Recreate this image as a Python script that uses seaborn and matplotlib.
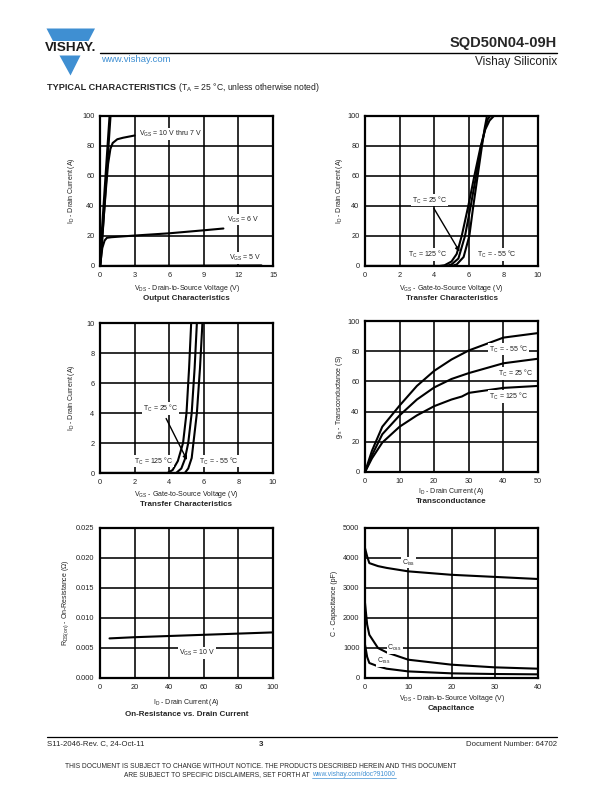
import numpy as np
import matplotlib
matplotlib.use('Agg')
import matplotlib.pyplot as plt
import seaborn as sns
from matplotlib.patches import Polygon

# ---------------- data ----------------
# Output characteristics (VDS, ID)
out_vds_10 = [0, 0.87]
out_id_10 = [0, 100]
out_vds_7 = [0, 0.3, 0.5, 0.7, 0.9, 1.1, 1.5, 2.0, 3.0]
out_id_7 = [0, 30, 50, 68, 78, 82, 84.5, 85.5, 87]
out_vds_6 = [0, 0.2, 0.4, 0.6, 1.0, 3.0, 6.0, 9.0, 10.7]
out_id_6 = [0, 12, 17, 18.8, 19.2, 20.3, 21.8, 23.8, 25]
out_vds_5 = [0, 14]
out_id_5 = [0, 0.4]

# Transfer characteristics, 0-100 A
tr_vgs_125 = [0, 4.3, 4.6, 5.0, 5.3, 5.59, 5.97, 6.32, 6.69, 6.95, 7.2, 7.45]
tr_id_125 = [0, 0, 0.5, 3, 8, 20, 40, 60, 80, 91, 97, 100]
tr_vgs_25 = [0, 4.7, 5.0, 5.4, 5.78, 6.11, 6.42, 6.72, 6.95, 7.1, 7.25]
tr_id_25 = [0, 0, 1, 5, 20, 40, 60, 80, 92, 98, 100]
tr_vgs_m55 = [0, 5.0, 5.3, 5.7, 6.03, 6.26, 6.51, 6.76, 6.92, 7.05]
tr_id_m55 = [0, 0, 1, 6, 20, 40, 60, 80, 92, 100]

# Transfer characteristics, 0-10 A
trl_vgs_125 = [0, 3.9, 4.2, 4.5, 4.8, 5.0, 5.15, 5.27]
trl_id_125 = [0, 0, 0.2, 0.8, 2, 4, 7, 10]
trl_vgs_25 = [0, 4.4, 4.7, 4.9, 5.1, 5.3, 5.47, 5.6]
trl_id_25 = [0, 0, 0.3, 0.9, 2, 4, 7, 10]
trl_vgs_m55 = [0, 4.9, 5.1, 5.3, 5.4, 5.6, 5.78, 5.92]
trl_id_m55 = [0, 0, 0.3, 1, 2, 4, 7, 10]

# Transconductance (ID, gfs)
gfs_id = [0, 2, 5, 10, 15, 20, 25, 30, 40, 50]
gfs_m55 = [0, 14, 30, 44, 57, 67, 74.5, 80.5, 89, 92]
gfs_25 = [0, 11, 25, 37.5, 48, 56, 61.6, 65.5, 72, 75]
gfs_id_125 = [0, 2, 5, 10, 15, 20, 25, 28, 30, 40, 50]
gfs_125 = [0, 9, 19.5, 30, 37.5, 43.6, 48, 50, 52.4, 55.7, 57]

# On-resistance vs drain current
rds_id = [5.5, 20, 40, 60, 80, 100]
rds_on = [0.0066, 0.0068, 0.0070, 0.0072, 0.0074, 0.0076]

# Capacitance (VDS, pF)
cap_vds = [0, 0.5, 1, 3, 5, 10, 20, 30, 40]
c_iss = [4330, 4050, 3830, 3730, 3670, 3555, 3440, 3370, 3300]
c_oss = [2500, 1780, 1440, 1000, 855, 610, 444, 355, 310]
c_rss = [1110, 700, 500, 390, 310, 220, 155, 133, 122]

out_xticks = [0, 3, 6, 9, 12, 15]
id_yticks = [0, 20, 40, 60, 80, 100]
vgs_xticks = [0, 2, 4, 6, 8, 10]
idl_yticks = [0, 2, 4, 6, 8, 10]
gfs_xticks = [0, 10, 20, 30, 40, 50]
gfs_yticks = [0, 20, 40, 60, 80, 100]
rds_xticks = [0, 20, 40, 60, 80, 100]
rds_yticks = [0.000, 0.005, 0.010, 0.015, 0.020, 0.025]
rds_yticklabels = ['0.000', '0.005', '0.010', '0.015', '0.020', '0.025']
cap_xticks = [0, 10, 20, 30, 40]
cap_yticks = [0, 1000, 2000, 3000, 4000, 5000]

# ---------------- style ----------------
sns.set_style('white')
plt.rcParams['font.family'] = ['Liberation Sans', 'DejaVu Sans']
plt.rcParams['mathtext.fontset'] = 'custom'
plt.rcParams['mathtext.rm'] = 'Liberation Sans'
plt.rcParams['mathtext.it'] = 'Liberation Sans:italic'
plt.rcParams['mathtext.bf'] = 'Liberation Sans:bold'

BLUE = '#3f8fd2'
W, H = 612, 792
fig = plt.figure(figsize=(6.12, 7.92), dpi=100)

# page overlay in pixel coordinates
page = fig.add_axes([0, 0, 1, 1])
page.set_xlim(0, W)
page.set_ylim(H, 0)
page.axis('off')


def px_axes(l, t, r, b):
    return fig.add_axes([l / W, 1 - b / H, (r - l) / W, (b - t) / H])


def style(ax, xticks, yticks, xlabel, ylabel, title, xl_off=22, t_off=32, yl_x=-0.16, yticklabels=None):
    ax.set_xlim(xticks[0], xticks[-1])
    ax.set_ylim(yticks[0], yticks[-1])
    ax.set_xticks(xticks)
    ax.set_yticks(yticks)
    if yticklabels is not None:
        ax.set_yticklabels(yticklabels)
    ax.grid(True, color='black', lw=1.15)
    ax.set_axisbelow(True)
    for s in ax.spines.values():
        s.set_visible(True)
        s.set_color('black')
        s.set_linewidth(1.6)
    ax.tick_params(length=0, labelsize=5.3, pad=4, colors='#222222')
    hpx = ax.get_position().height * H
    ax.set_xlabel(xlabel, fontsize=5, color='#222222')
    ax.xaxis.set_label_coords(0.5, -xl_off / hpx)
    ax.xaxis.label.set_va('center')
    ax.set_ylabel(ylabel, fontsize=5, color='#222222')
    ax.yaxis.set_label_coords(yl_x, 0.5)
    ax.yaxis.label.set_va('center')
    ax.text(0.5, -t_off / hpx, title, transform=ax.transAxes, ha='center', va='center',
            fontsize=5.8, fontweight='bold')


def curve(ax, x, y, lw=1.5):
    sns.lineplot(x=x, y=y, ax=ax, color='black', lw=lw, sort=False, estimator=None)


def label(ax, x, y, s, ha='left'):
    ax.text(x, y, s, fontsize=5, ha=ha, va='center', color='#222222', zorder=3,
            bbox=dict(facecolor='white', edgecolor='none', pad=0.6))


VGS = r'V$_{\rm GS}$'
TC = r'T$_{\rm C}$'

# 1 Output characteristics
ax1 = px_axes(100, 116, 273, 266)
curve(ax1, out_vds_10, out_id_10, lw=2.2)
curve(ax1, out_vds_7, out_id_7)
curve(ax1, out_vds_6, out_id_6)
curve(ax1, out_vds_5, out_id_5)
style(ax1, out_xticks, id_yticks, r'V$_{\rm DS}$ - Drain-to-Source Voltage (V)',
      r'I$_{\rm D}$ - Drain Current (A)', 'Output Characteristics', xl_off=23, t_off=33, yl_x=-0.165)
label(ax1, 3.4, 88, VGS + ' = 10 V thru 7 V')
label(ax1, 11.0, 31, VGS + ' = 6 V')
label(ax1, 11.2, 5.5, VGS + ' = 5 V')

# 2 Transfer characteristics 0-100 A
ax2 = px_axes(365, 116, 538, 266)
curve(ax2, tr_vgs_125, tr_id_125)
curve(ax2, tr_vgs_25, tr_id_25)
curve(ax2, tr_vgs_m55, tr_id_m55)
style(ax2, vgs_xticks, id_yticks, r'V$_{\rm GS}$ - Gate-to-Source Voltage (V)',
      r'I$_{\rm D}$ - Drain Current (A)', 'Transfer Characteristics', xl_off=22, t_off=32, yl_x=-0.15)
label(ax2, 2.7, 44, TC + ' = 25 °C')
label(ax2, 2.5, 7.5, TC + ' = 125 °C')
label(ax2, 6.45, 7.5, TC + ' = - 55 °C')
ax2.annotate('', xy=(5.55, 8), xytext=(3.9, 40),
             arrowprops=dict(arrowstyle='-|>', color='black', lw=1, mutation_scale=6))

# 3 Transfer characteristics 0-10 A
ax3 = px_axes(100, 323, 273, 473)
curve(ax3, trl_vgs_125, trl_id_125)
curve(ax3, trl_vgs_25, trl_id_25)
curve(ax3, trl_vgs_m55, trl_id_m55)
style(ax3, vgs_xticks, idl_yticks, r'V$_{\rm GS}$ - Gate-to-Source Voltage (V)',
      r'I$_{\rm D}$ - Drain Current (A)', 'Transfer Characteristics', xl_off=21, t_off=32, yl_x=-0.165)
label(ax3, 2.5, 4.3, TC + ' = 25 °C')
label(ax3, 1.95, 0.8, TC + ' = 125 °C')
label(ax3, 5.72, 0.8, TC + ' = - 55 °C')
ax3.annotate('', xy=(5.1, 0.7), xytext=(3.75, 3.8),
             arrowprops=dict(arrowstyle='-|>', color='black', lw=1, mutation_scale=6))

# 4 Transconductance
ax4 = px_axes(365, 321, 538, 472)
curve(ax4, gfs_id, gfs_m55)
curve(ax4, gfs_id, gfs_25)
curve(ax4, gfs_id_125, gfs_125)
style(ax4, gfs_xticks, gfs_yticks, r'I$_{\rm D}$ - Drain Current (A)',
      r'g$_{\rm fs}$ - Transconductance (S)', 'Transconductance', xl_off=20, t_off=30, yl_x=-0.15)
label(ax4, 35.7, 81.5, TC + ' = - 55 °C')
label(ax4, 38.5, 65.5, TC + ' = 25 °C')
label(ax4, 35.7, 50.2, TC + ' = 125 °C')

# 5 On-resistance vs drain current
ax5 = px_axes(100, 528, 273, 678)
curve(ax5, rds_id, rds_on)
style(ax5, rds_xticks, rds_yticks, r'I$_{\rm D}$ - Drain Current (A)',
      r'R$_{\rm DS(on)}$ - On-Resistance (Ω)', 'On-Resistance vs. Drain Current',
      xl_off=25, t_off=36, yl_x=-0.2, yticklabels=rds_yticklabels)
label(ax5, 45.5, 0.0041, VGS + ' = 10 V')

# 6 Capacitance
ax6 = px_axes(365, 528, 538, 678)
curve(ax6, cap_vds, c_iss)
curve(ax6, cap_vds, c_oss)
curve(ax6, cap_vds, c_rss)
style(ax6, cap_xticks, cap_yticks, r'V$_{\rm DS}$ - Drain-to-Source Voltage (V)',
      'C - Capacitance (pF)', 'Capacitance', xl_off=21, t_off=31, yl_x=-0.175)
label(ax6, 8.5, 3850, r'C$_{\rm iss}$')
label(ax6, 5.2, 990, r'C$_{\rm oss}$')
label(ax6, 2.7, 560, r'C$_{\rm rss}$')

# ---------------- header ----------------
# logo: inverted triangle with white band carrying the name
page.add_patch(Polygon([[46.5, 28.5], [95, 28.5], [88.5, 41], [53, 41]], closed=True,
                       facecolor=BLUE, edgecolor='none'))
page.add_patch(Polygon([[59.5, 55.5], [80.5, 55.5], [70.5, 75.5]], closed=True,
                       facecolor=BLUE, edgecolor='none'))
page.text(70.8, 48.3, 'VISHAY.', fontsize=9.7, fontweight='bold', ha='center', va='center',
          color='#1a1a1a')

page.plot([100, 557], [52.5, 52.5], color='black', lw=1)
page.text(557, 43, 'SQD50N04-09H', fontsize=10.5, fontweight='bold', ha='right', va='center')
page.text(101, 59.5, 'www.vishay.com', fontsize=6.8, color=BLUE, ha='left', va='center')
page.text(557, 62, 'Vishay Siliconix', fontsize=8.6, ha='right', va='center', color='#222222')

t1 = page.text(47, 88, 'TYPICAL CHARACTERISTICS', fontsize=6.6, fontweight='bold',
               ha='left', va='center')
page.annotate(r' (T$_{\rm A}$ = 25 °C, unless otherwise noted)', xy=(1, 0.5), xycoords=t1,
              ha='left', va='center', fontsize=6.2, color='#222222')

# ---------------- footer ----------------
page.plot([47, 557], [737, 737], color='black', lw=0.9)
page.text(47, 744, 'S11-2046-Rev. C, 24-Oct-11', fontsize=5.6, ha='left', va='center')
page.text(261, 744.5, '3', fontsize=5.8, fontweight='bold', ha='center', va='center')
page.text(557, 744, 'Document Number: 64702', fontsize=5.6, ha='right', va='center')
page.text(261, 766, 'THIS DOCUMENT IS SUBJECT TO CHANGE WITHOUT NOTICE. THE PRODUCTS DESCRIBED '
          'HEREIN AND THIS DOCUMENT', fontsize=4.75, ha='center', va='center')
page.text(311.5, 774.5, 'ARE SUBJECT TO SPECIFIC DISCLAIMERS, SET FORTH AT ', fontsize=4.75,
          ha='right', va='center')
link = page.text(312, 774.5, 'www.vishay.com/doc?91000', fontsize=4.75, ha='left', va='center',
                 color=BLUE)
page.plot([312, 396], [778.2, 778.2], color=BLUE, lw=0.5)

fig.savefig('out.png', dpi=100)
